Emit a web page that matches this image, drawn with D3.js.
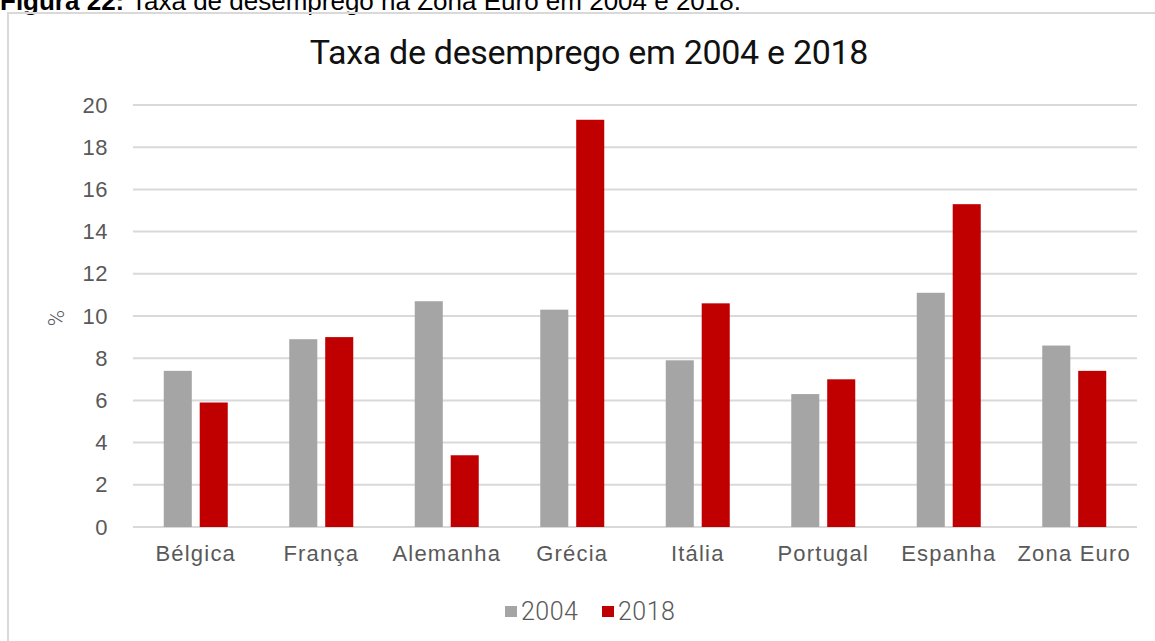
<!DOCTYPE html>
<html>
<head>
<meta charset="utf-8">
<script src="https://cdn.jsdelivr.net/npm/d3@7"></script>
<style>
  body { margin: 0; background: #fff; }
  svg { display: block; font-family: "Roboto", "Liberation Sans", sans-serif; }
</style>
</head>
<body>
<div id="chart"></div>
<script>
// Data
var countries = ["Bélgica", "França", "Alemanha", "Grécia", "Itália", "Portugal", "Espanha", "Zona Euro"];
var values2004 = [7.4, 8.9, 10.7, 10.3, 7.9, 6.3, 11.1, 8.6];
var values2018 = [5.9, 9.0, 3.4, 19.3, 10.6, 7.0, 15.3, 7.4];
var seriesNames = ["2004", "2018"];
var yTicks = [0, 2, 4, 6, 8, 10, 12, 14, 16, 18, 20];

var W = 1155, H = 641;
var margin = { top: 105, right: 18, bottom: 114, left: 133 };
var width = W - margin.left - margin.right;
var height = H - margin.top - margin.bottom;
var colors = ["#a5a5a5", "#c00000"];

var svg = d3.select("#chart")
    .append("svg")
    .attr("width", W)
    .attr("height", H);

// caption above the frame (cut off at top in the source)
var cap = svg.append("text")
    .attr("x", 0)
    .attr("y", 10)
    .attr("font-family", "Liberation Sans, Arial, sans-serif")
    .attr("font-size", "26px")
    .attr("fill", "#000");
cap.append("tspan").attr("font-weight", "bold").text("Figura 22:");
cap.append("tspan").text(" Taxa de desemprego na Zona Euro em 2004 e 2018.");

// frame
svg.append("path")
    .attr("d", "M8," + H + "V13H" + W)
    .attr("fill", "none")
    .attr("stroke", "#d9d9d9")
    .attr("stroke-width", 2);

// title
svg.append("text")
    .attr("x", 589)
    .attr("y", 64)
    .attr("text-anchor", "middle")
    .attr("font-size", "34px")
    .attr("letter-spacing", "-0.3px")
    .attr("fill", "#111")
    .text("Taxa de desemprego em 2004 e 2018");

var g = svg.append("g")
    .attr("transform", "translate(" + margin.left + "," + margin.top + ")");

var x0 = d3.scaleBand()
    .domain(countries)
    .range([0, width])
    .paddingInner(0)
    .paddingOuter(0);

var x1 = d3.scaleBand()
    .domain(seriesNames)
    .range([x0.bandwidth() / 2 - 32, x0.bandwidth() / 2 + 32])
    .paddingInner(0.22)
    .paddingOuter(0);

var y = d3.scaleLinear()
    .domain([0, 20])
    .range([height, 0]);

// gridlines
g.append("g")
    .selectAll("line")
    .data(yTicks)
    .enter()
    .append("line")
    .attr("x1", 0)
    .attr("x2", width)
    .attr("y1", function(d) { return y(d); })
    .attr("y2", function(d) { return y(d); })
    .attr("stroke", "#d9d9d9")
    .attr("stroke-width", 2);

// y axis
var yAxis = g.append("g")
    .call(d3.axisLeft(y).tickValues(yTicks).tickSize(0).tickPadding(25));
yAxis.select(".domain").remove();
yAxis.selectAll("text")
    .attr("font-size", "22px")
    .attr("font-weight", "300")
    .attr("letter-spacing", "0.5px")
    .attr("fill", "#595959");

// x axis
var xAxis = g.append("g")
    .attr("transform", "translate(0," + height + ")")
    .call(d3.axisBottom(x0).tickSize(0).tickPadding(18));
xAxis.select(".domain").remove();
xAxis.selectAll("text")
    .attr("font-size", "22px")
    .attr("font-weight", "300")
    .attr("letter-spacing", "1.2px")
    .attr("fill", "#595959");

// y label
svg.append("text")
    .attr("transform", "translate(64,318) rotate(-90)")
    .attr("text-anchor", "middle")
    .attr("font-size", "22px")
    .attr("font-weight", "300")
    .attr("fill", "#595959")
    .text("%");

// bars
var rows = countries.map(function(c, i) {
    return { country: c, vals: [values2004[i], values2018[i]] };
});

var groups = g.selectAll(".group")
    .data(rows)
    .enter()
    .append("g")
    .attr("transform", function(d) { return "translate(" + x0(d.country) + ",0)"; });

groups.selectAll("rect")
    .data(function(d) { return d.vals.map(function(v, i) { return { key: seriesNames[i], value: v, i: i }; }); })
    .enter()
    .append("rect")
    .attr("x", function(d) { return x1(d.key); })
    .attr("y", function(d) { return y(d.value); })
    .attr("width", x1.bandwidth())
    .attr("height", function(d) { return height - y(d.value); })
    .attr("fill", function(d) { return colors[d.i]; });

// legend
var legend = svg.append("g")
    .attr("transform", "translate(505,606)");
var items = legend.selectAll("g")
    .data(seriesNames)
    .enter()
    .append("g")
    .attr("transform", function(d, i) { return "translate(" + (i * 97) + ",0)"; });
items.append("rect")
    .attr("x", 0)
    .attr("y", 0)
    .attr("width", 12)
    .attr("height", 11)
    .attr("fill", function(d, i) { return colors[i]; });
items.append("text")
    .attr("x", 16)
    .attr("y", 14)
    .attr("font-size", "25px")
    .attr("font-weight", "300")
    .attr("letter-spacing", "0.5px")
    .attr("fill", "#595959")
    .text(function(d) { return d; });
</script>
</body>
</html>
